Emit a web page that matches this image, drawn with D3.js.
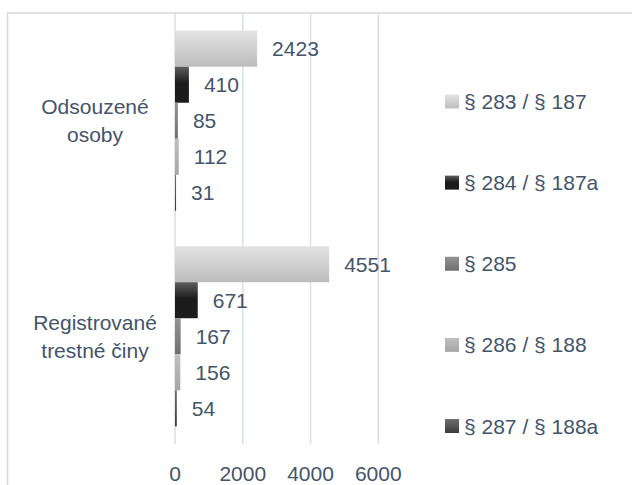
<!DOCTYPE html>
<html>
<head>
<meta charset="utf-8">
<script src="https://cdn.jsdelivr.net/npm/d3@7"></script>
<style>
  html, body { margin: 0; padding: 0; background: #fff; }
  svg { display: block; }
  text { font-family: "Liberation Sans", Arial, sans-serif; fill: #44546a; }
</style>
</head>
<body>
<svg id="chart" width="632" height="485"></svg>
<script>
// ---- data ----
const categories = ["Odsouzené osoby", "Registrované trestné činy"];
const seriesNames = ["§ 283 / § 187", "§ 284 / § 187a", "§ 285", "§ 286 / § 188", "§ 287 / § 188a"];
const odsouzeneValues = [2423, 410, 85, 112, 31];
const registrovaneValues = [4551, 671, 167, 156, 54];
const xTicks = [0, 2000, 4000, 6000];
const seriesGradients = [
  ["#e3e3e3", "#bdbdbd"],
  ["#5e5e5e", "#1c1c1c"],
  ["#939393", "#6f6f6f"],
  ["#c0c0c0", "#a6a6a6"],
  ["#6e6e6e", "#3c3c3c"]
];

const valuesByCategory = [odsouzeneValues, registrovaneValues];

const svg = d3.select("#chart");
svg.append("rect").attr("width", 632).attr("height", 485).attr("fill", "#fff");

// gradients
const defs = svg.append("defs");
seriesGradients.forEach((g, i) => {
  const lg = defs.append("linearGradient").attr("id", "g" + i)
    .attr("x1", 0).attr("y1", 0).attr("x2", 0).attr("y2", 1);
  lg.append("stop").attr("offset", "0%").attr("stop-color", g[0]);
  lg.append("stop").attr("offset", i === 1 ? "45%" : "100%").attr("stop-color", g[1]);
  if (i === 1) lg.append("stop").attr("offset", "100%").attr("stop-color", g[1]);
});

// chart border
svg.append("rect").attr("x", 7.5).attr("y", 13).attr("width", 700).attr("height", 600)
  .attr("fill", "none").attr("stroke", "#d9d9d9").attr("stroke-width", 1.6);

// scales
const x = d3.scaleLinear().domain([0, 6000]).range([175, 378.3]);
const y = d3.scaleBand().domain(categories).range([13, 444]).padding(0);
const ys = d3.scaleBand().domain(seriesNames).range([0, y.bandwidth()])
  .paddingInner(0).paddingOuter(0.49);

// gridlines
svg.append("g").selectAll("line").data(xTicks).join("line")
  .attr("x1", d => x(d)).attr("x2", d => x(d))
  .attr("y1", 13).attr("y2", 444)
  .attr("stroke", "#d9dee7").attr("stroke-width", 1.5);

// axis labels
svg.append("g").selectAll("text").data(xTicks).join("text")
  .attr("x", d => x(d)).attr("y", 481)
  .attr("text-anchor", "middle").attr("font-size", 21)
  .text(d => d);

// bars
categories.forEach((cat, ci) => {
  const g = svg.append("g").attr("transform", `translate(0,${y(cat)})`);
  const data = seriesNames.map((s, si) => ({ s, si, v: valuesByCategory[ci][si] }));
  g.selectAll("rect").data(data).join("rect")
    .attr("x", x(0))
    .attr("y", d => ys(d.s))
    .attr("width", d => Math.max(1, x(d.v) - x(0)))
    .attr("height", ys.bandwidth())
    .attr("fill", d => `url(#g${d.si})`);
  g.selectAll("text").data(data).join("text")
    .attr("x", d => x(d.v) + 15)
    .attr("y", d => ys(d.s) + ys.bandwidth() / 2)
    .attr("dominant-baseline", "central")
    .attr("font-size", 21)
    .text(d => d.v);

  // category label (two lines)
  const sp = cat.indexOf(" ");
  const lines = [cat.slice(0, sp), cat.slice(sp + 1)];
  const cy = y(cat) + y.bandwidth() / 2;
  svg.append("text")
    .attr("x", 95).attr("text-anchor", "middle").attr("font-size", 21)
    .selectAll("tspan").data(lines).join("tspan")
    .attr("x", 95)
    .attr("y", (d, i) => cy + (i - 0.5) * 28)
    .attr("dominant-baseline", "central")
    .text(d => d);
});

// legend
const ly = d3.scalePoint().domain(seriesNames).range([101.5, 426]);
const lg = svg.append("g");
seriesNames.forEach((s, i) => {
  lg.append("rect").attr("x", 445).attr("y", ly(s) - 7).attr("width", 14).attr("height", 14)
    .attr("fill", `url(#g${i})`);
  lg.append("text").attr("x", 464).attr("y", ly(s))
    .attr("dominant-baseline", "central").attr("font-size", 21).text(s);
});
</script>
</body>
</html>
